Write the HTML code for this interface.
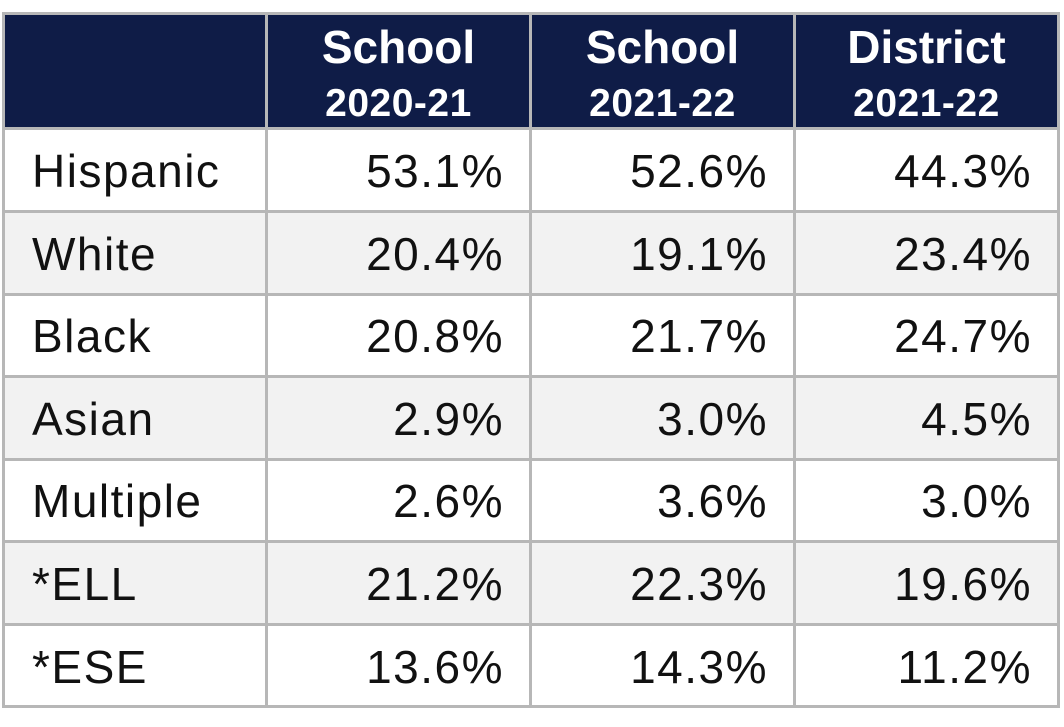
<!DOCTYPE html>
<html><head><style>
body{margin:0;width:1064px;height:727px;background:#fff;font-family:"Liberation Sans",Arial,sans-serif;position:relative;overflow:hidden}
.c{position:absolute;box-sizing:border-box}
.h{background:#0f1c47;color:#fff;text-align:center;font-weight:bold}
.h .a{position:absolute;left:0;right:0;top:7px;font-size:46px;line-height:52px}
.h .b{position:absolute;left:0;right:0;top:68px;font-size:39px;line-height:44px;letter-spacing:0.5px}
.t{font-size:46px;line-height:84px;color:#111;letter-spacing:1.5px}
.l{padding-left:28px}
.r{text-align:right;padding-right:26px}
.g{background:#f2f2f2}
.vl{position:absolute;background:#b7b7b7;width:3px;top:12px;height:696px}
.hl{position:absolute;background:#b7b7b7;height:3px;left:2px;width:1058px}
</style></head><body>
<div class="c h" style="left:4px;top:14px;width:262px;height:114px"></div>
<div class="c h" style="left:267px;top:14px;width:263px;height:114px"><div class="a">School</div><div class="b">2020-21</div></div>
<div class="c h" style="left:531px;top:14px;width:263px;height:114px"><div class="a">School</div><div class="b">2021-22</div></div>
<div class="c h" style="left:795px;top:14px;width:263px;height:114px"><div class="a">District</div><div class="b">2021-22</div></div>
<div id="rows"></div>
<script>
var d=[["Hispanic","53.1%","52.6%","44.3%"],["White","20.4%","19.1%","23.4%"],["Black","20.8%","21.7%","24.7%"],["Asian","2.9%","3.0%","4.5%"],["Multiple","2.6%","3.6%","3.0%"],["*ELL","21.2%","22.3%","19.6%"],["*ESE","13.6%","14.3%","11.2%"]];
var xs=[4,267,531,795],ws=[262,263,263,263],h="";
for(var i=0;i<7;i++){var y=129+i*82.6;for(var j=0;j<4;j++){h+='<div class="c t '+(j?'r':'l')+(i%2?' g':'')+'" style="left:'+xs[j]+'px;top:'+y+'px;width:'+ws[j]+'px;height:82.6px">'+d[i][j]+'</div>';}}
var ls=[12,127,210,293,375,458,540,623,705];
for(var k=0;k<ls.length;k++)h+='<div class="hl" style="top:'+ls[k]+'px"></div>';
var vs=[2,265,529,793,1057];
for(var k=0;k<vs.length;k++)h+='<div class="vl" style="left:'+vs[k]+'px"></div>';
document.getElementById("rows").innerHTML=h;
</script>
</body></html>
